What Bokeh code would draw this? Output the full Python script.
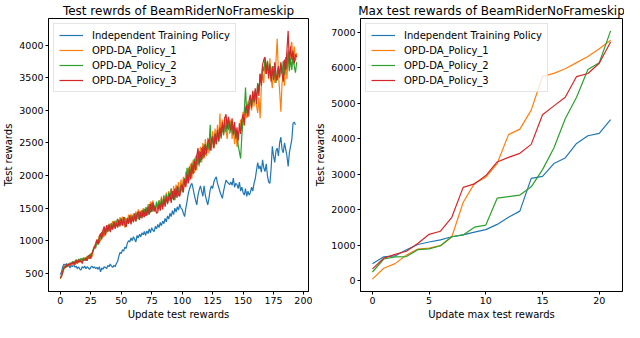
from bokeh.plotting import figure
from bokeh.layouts import row
from bokeh.models import Range1d
from bokeh.embed import file_html
from bokeh.resources import INLINE

# ---------------- data: left chart (test rewards per update) ----------------
indep_test = [
    480, 520, 600, 640, 620, 650, 600, 630, 580, 620,
    600, 640, 590, 610, 570, 600, 560, 550, 600, 580,
    610, 570, 600, 580, 560, 590, 610, 580, 600, 570,
    590, 560, 600, 520, 580, 560, 600, 590, 570, 620,
    600, 640, 610, 590, 620, 600, 650, 680, 760, 820,
    800, 860, 840, 900, 880, 960, 1000, 980, 1040, 1000,
    1060, 1020, 980, 1080, 1040, 1100, 1060, 1120, 1090, 1140,
    1080, 1150, 1110, 1180, 1120, 1200, 1160, 1140, 1220, 1180,
    1250, 1200, 1280, 1230, 1300, 1260, 1340, 1290, 1380, 1330,
    1420, 1370, 1460, 1400, 1500, 1440, 1520, 1470, 1560, 1500,
    1480, 1420, 1370, 1500, 1600, 1720, 1790, 1850, 1880, 1800,
    1700, 1620, 1550, 1700, 1780, 1840, 1760, 1680, 1840, 1700,
    1620, 1550, 1650, 1780, 1840, 1800, 1900, 1950, 1980, 1880,
    1820, 1750, 1700, 1650, 1760, 1850, 1930, 1900, 1880, 1860,
    1900, 1850, 1960, 1820, 1880, 1860, 1800, 1900, 1760, 1820,
    1740, 1700, 1800, 1680, 1760, 1700, 1740, 1820, 1760, 1880,
    1950, 2080, 2200, 2100, 2150, 2050, 2240, 2120, 2060, 2180,
    2000, 1900, 1880, 2100, 2450, 2300, 2200, 2380, 2420, 2300,
    2500, 2590, 2400, 2350, 2500, 2400, 2300, 2140, 2350, 2450,
    2550, 2800, 2820, 2780,
]

policy1_test = [
    410, 450, 500, 560, 620, 590, 640, 610, 650, 630,
    660, 620, 690, 650, 700, 660, 720, 670, 730, 690,
    740, 700, 760, 720, 780, 800, 750, 840, 900, 960,
    1020, 940, 1080, 990, 1120, 1160, 1060, 1200, 1110, 1240,
    1150, 1260, 1170, 1300, 1200, 1310, 1220, 1340, 1230, 1360,
    1240, 1370, 1260, 1200, 1340, 1260, 1400, 1280, 1410, 1300,
    1420, 1310, 1450, 1330, 1480, 1350, 1460, 1380, 1500, 1390,
    1520, 1420, 1560, 1430, 1600, 1470, 1620, 1480, 1440, 1590,
    1460, 1620, 1500, 1680, 1530, 1700, 1560, 1740, 1590, 1760,
    1620, 1800, 1650, 1840, 1680, 1860, 1700, 1900, 1720, 1940,
    1780, 1980, 1830, 2060, 1880, 2120, 1920, 2180, 1960, 2240,
    2040, 2300, 2080, 2380, 2140, 2440, 2200, 2500, 2260, 2560,
    2300, 2580, 2340, 2640, 2380, 2680, 2420, 2720, 2480, 2780,
    2520, 2950, 2560, 2860, 2620, 2900, 2680, 2560, 2880, 2640,
    2860, 2560, 2780, 2480, 2720, 2440, 2620, 2700, 2860, 2680,
    2980, 2760, 3060, 2880, 3140, 2920, 3220, 3000, 3280, 3060,
    3300, 3080, 2960, 3200, 2880, 3380, 3560, 3420, 3800, 3560,
    3760, 3480, 3800, 3500, 3340, 3680, 3420, 3760, 4100, 3560,
    3300, 2980, 3420, 3600, 3380, 3720, 3480, 3880, 3620, 3960,
    4050, 3700, 3980, 3760, 3880,
]

policy2_test = [
    420, 460, 540, 580, 610, 600, 640, 620, 660, 640,
    680, 640, 670, 710, 660, 720, 680, 730, 690, 740,
    720, 690, 750, 770, 720, 790, 810, 870, 920, 880,
    970, 1020, 960, 1090, 1130, 1050, 1180, 1110, 1220, 1140,
    1240, 1160, 1270, 1190, 1300, 1200, 1280, 1330, 1220, 1310,
    1340, 1230, 1320, 1360, 1220, 1330, 1260, 1380, 1270, 1390,
    1300, 1410, 1290, 1430, 1330, 1450, 1350, 1470, 1360, 1490,
    1380, 1510, 1400, 1560, 1430, 1580, 1450, 1550, 1460, 1600,
    1480, 1620, 1490, 1650, 1520, 1690, 1540, 1710, 1580, 1740,
    1610, 1800, 1640, 1760, 1620, 1790, 1660, 1820, 1700, 1850,
    1740, 1900, 1960, 1860, 2120, 1900, 2140, 1980, 2200, 2040,
    2260, 2080, 2320, 2160, 2380, 2200, 2420, 2260, 2480, 2320,
    2360, 2520, 2400, 2780, 2420, 2600, 2440, 2640, 2480, 2680,
    2520, 2720, 2580, 2780, 2620, 2820, 2660, 2860, 2700, 2840,
    2660, 2800, 2620, 2760, 2560, 2680, 2460, 2360, 2260, 2620,
    2880, 2980, 3350, 2960, 3100, 3020, 3180, 3060, 3240, 3120,
    3300, 3180, 3420, 3300, 3560, 3440, 3680, 3600, 3780, 3560,
    3760, 3540, 3720, 3500, 3680, 3460, 3640, 3420, 3600, 3660,
    3500, 3720, 3560, 3760, 3540, 3820, 3640, 3920, 3600, 3800,
    3620, 3860, 3680, 3580, 3740,
]

policy3_test = [
    430, 470, 520, 600, 580, 630, 610, 650, 620, 660,
    640, 680, 630, 700, 650, 710, 670, 690, 650, 710,
    700, 740, 690, 760, 780, 720, 800, 850, 900, 950,
    1010, 940, 1060, 1110, 1020, 1160, 1220, 1080, 1240, 1140,
    1260, 1130, 1240, 1170, 1290, 1180, 1280, 1200, 1320, 1220,
    1340, 1230, 1360, 1240, 1210, 1350, 1260, 1390, 1250, 1370,
    1280, 1420, 1300, 1400, 1450, 1320, 1440, 1340, 1470, 1360,
    1490, 1380, 1520, 1400, 1560, 1440, 1590, 1450, 1520, 1420,
    1440, 1560, 1460, 1600, 1480, 1640, 1520, 1680, 1560, 1660,
    1720, 1580, 1760, 1620, 1800, 1660, 1840, 1700, 1680, 1830,
    1860, 1740, 1940, 1820, 2020, 1880, 2100, 1940, 2160, 2020,
    2220, 2080, 2300, 2420, 2180, 2360, 2240, 2440, 2280, 2480,
    2340, 2500, 2560, 2380, 2540, 2600, 2420, 2640, 2480, 2700,
    2540, 2740, 2600, 2820, 2660, 2880, 2940, 2720, 2900, 2760,
    2700, 2880, 2640, 2820, 2580, 2740, 2540, 2800, 2640, 2860,
    2940, 2780, 3020, 3080, 2900, 3160, 3240, 3040, 3300, 3140,
    3340, 3100, 3400, 3220, 3560, 3380, 3700, 3780, 3820, 3560,
    3740, 3500, 3700, 3440, 3660, 3480, 3740, 3540, 3460, 3680,
    3520, 3740, 3560, 3440, 3780, 3620, 3920, 4220, 3720, 3980,
    3780, 3920, 3720, 3860, 3820,
]

# ---------------- data: right chart (max test rewards) ----------------
indep_max = [478, 670, 695, 870, 1017, 1087, 1148, 1235, 1287, 1365, 1435,
             1583, 1783, 1957, 2880, 2935, 3297, 3453, 3862, 4078, 4148, 4531]
policy1_max = [43, 348, 478, 722, 887, 913, 983, 1235, 2200, 2739, 2913,
               3297, 4110, 4266, 4800, 5750, 5836, 5965, 6138, 6310, 6526, 6770]
policy2_max = [243, 609, 670, 678, 870, 896, 983, 1235, 1287, 1504, 1565,
               2322, 2365, 2409, 2640, 3125, 3732, 4557, 5164, 5945, 6136, 7031]
policy3_max = [330, 635, 739, 826, 1043, 1304, 1391, 1783, 2626, 2722, 2957,
               3341, 3470, 3584, 3836, 4670, 4920, 5164, 5745, 5833, 6120, 6719]

series_names = ["Independent Training Policy", "OPD-DA_Policy_1",
                "OPD-DA_Policy_2", "OPD-DA_Policy_3"]
colors = ["#1f77b4", "#ff7f0e", "#2ca02c", "#d62728"]

left_xticks = [0, 25, 50, 75, 100, 125, 150, 175, 200]
left_yticks = [500, 1000, 1500, 2000, 2500, 3000, 3500, 4000]
right_xticks = [0, 5, 10, 15, 20]
right_yticks = [0, 1000, 2000, 3000, 4000, 5000, 6000, 7000]

FONT = "DejaVu Sans"


def padded(lo, hi, frac=0.05):
    d = (hi - lo) * frac
    return lo - d, hi + d


def make_fig(title, series, xlabel, ylabel, xticks, yticks, width, bl, br):
    all_y = [v for s in series for v in s]
    max_n = max(len(s) for s in series)
    x0, x1 = padded(0, max_n - 1)
    y0, y1 = padded(min(all_y), max(all_y))
    p = figure(width=width, height=322, output_backend="svg",
               toolbar_location=None, title=title,
               x_range=Range1d(x0, x1), y_range=Range1d(y0, y1),
               min_border_left=bl, min_border_right=br,
               min_border_top=4, min_border_bottom=30)
    for s, name, c in zip(series, series_names, colors):
        p.line(list(range(len(s))), s, color=c, line_width=1.2,
               legend_label=name)
    p.title.text_font = FONT
    p.title.text_font_size = "12px"
    p.title.text_font_style = "normal"
    p.title.text_color = "black"
    p.title.align = "center"
    p.title.standoff = 2
    p.xgrid.grid_line_color = None
    p.ygrid.grid_line_color = None
    p.outline_line_color = "black"
    p.outline_line_width = 1
    p.outline_line_alpha = 1
    p.background_fill_color = "white"
    p.xaxis.ticker = xticks
    p.yaxis.ticker = yticks
    for ax, lab in ((p.xaxis, xlabel), (p.yaxis, ylabel)):
        ax.axis_label = lab
        ax.axis_label_text_font = FONT
        ax.axis_label_text_font_size = "10px"
        ax.axis_label_text_font_style = "normal"
        ax.axis_label_text_color = "black"
        ax.axis_label_standoff = 2
        ax.major_label_text_font = FONT
        ax.major_label_text_font_size = "9.5px"
        ax.major_label_text_color = "black"
        ax.major_label_standoff = 2
        ax.axis_line_color = "black"
        ax.major_tick_line_color = "black"
        ax.major_tick_out = 3
        ax.major_tick_in = 0
        ax.minor_tick_line_color = None
    p.yaxis.major_label_orientation = "horizontal"
    lg = p.legend[0]
    lg.location = "top_left"
    lg.label_text_font = FONT
    lg.label_text_font_size = "10px"
    lg.label_text_color = "black"
    lg.glyph_width = 24
    lg.glyph_height = 12
    lg.label_height = 12
    lg.label_standoff = 9
    lg.spacing = 3
    lg.padding = 5
    lg.margin = 5
    lg.border_line_color = "#cccccc"
    lg.border_line_width = 1
    lg.background_fill_alpha = 0.8
    return p


p1 = make_fig("Test rewrds of BeamRiderNoFrameskip",
              [indep_test, policy1_test, policy2_test, policy3_test],
              "Update test rewards", "Test rewards",
              left_xticks, left_yticks, 312, 40, 4)
p2 = make_fig("Max test rewards of BeamRiderNoFrameskip",
              [indep_max, policy1_max, policy2_max, policy3_max],
              "Update max test rewards", "Test rewards",
              right_xticks, right_yticks, 312, 42, 2)

layout = row(p1, p2)
open("out.html", "w").write(file_html(layout, INLINE))
